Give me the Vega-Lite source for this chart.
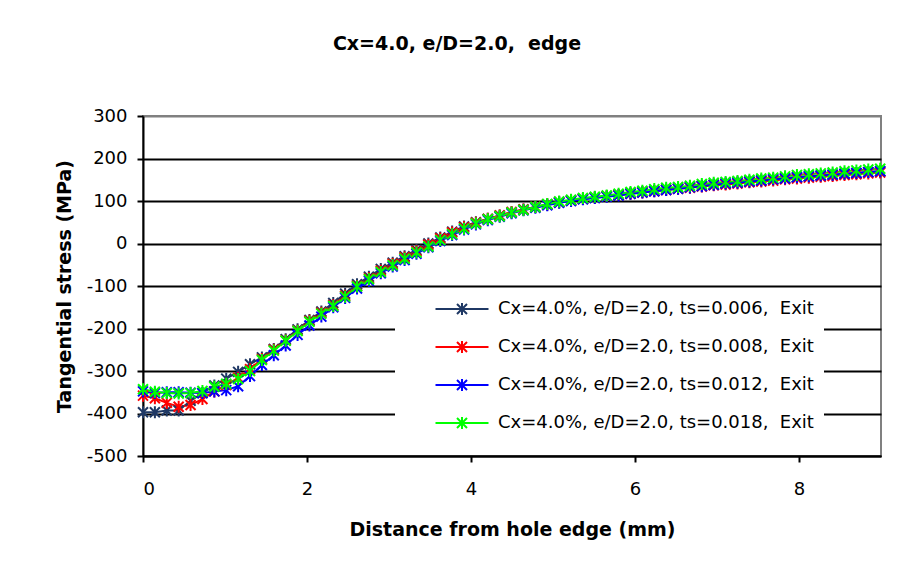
{
  "$schema": "https://vega.github.io/schema/vega-lite/v6.json",
  "width": 738,
  "height": 340,
  "autosize": {"type": "none"},
  "padding": {"left": 143, "top": 116, "right": 17, "bottom": 114},
  "background": "white",
  "title": {"text": "Cx=4.0, e/D=2.0,\u00a0 edge", "font": "DejaVu Sans", "fontSize": 19, "fontWeight": "bold", "color": "black", "anchor": "middle", "dx": -55, "offset": 53},
  "config": {"view": {"stroke": "#808080", "strokeWidth": 2}, "font": "DejaVu Sans"},
  "data": {"values": [
    {"x":0,"y":-397,"ts":"0.006"},{"x":0.145,"y":-397,"ts":"0.006"},{"x":0.29,"y":-393,"ts":"0.006"},{"x":0.435,"y":-393,"ts":"0.006"},{"x":0.58,"y":-370,"ts":"0.006"},{"x":0.725,"y":-352,"ts":"0.006"},{"x":0.87,"y":-334,"ts":"0.006"},{"x":1.015,"y":-318,"ts":"0.006"},{"x":1.16,"y":-302,"ts":"0.006"},{"x":1.305,"y":-284,"ts":"0.006"},{"x":1.45,"y":-268,"ts":"0.006"},{"x":1.595,"y":-248,"ts":"0.006"},{"x":1.74,"y":-225,"ts":"0.006"},{"x":1.885,"y":-202,"ts":"0.006"},{"x":2.03,"y":-180,"ts":"0.006"},{"x":2.175,"y":-160,"ts":"0.006"},{"x":2.32,"y":-140,"ts":"0.006"},{"x":2.465,"y":-118,"ts":"0.006"},{"x":2.61,"y":-96,"ts":"0.006"},{"x":2.755,"y":-78,"ts":"0.006"},{"x":2.9,"y":-60,"ts":"0.006"},{"x":3.045,"y":-45,"ts":"0.006"},{"x":3.19,"y":-30,"ts":"0.006"},{"x":3.335,"y":-15,"ts":"0.006"},{"x":3.48,"y":0,"ts":"0.006"},{"x":3.625,"y":14,"ts":"0.006"},{"x":3.77,"y":28,"ts":"0.006"},{"x":3.915,"y":40,"ts":"0.006"},{"x":4.06,"y":50,"ts":"0.006"},{"x":4.205,"y":58,"ts":"0.006"},{"x":4.35,"y":66,"ts":"0.006"},{"x":4.495,"y":73,"ts":"0.006"},{"x":4.64,"y":80,"ts":"0.006"},{"x":4.785,"y":86,"ts":"0.006"},{"x":4.93,"y":92,"ts":"0.006"},{"x":5.075,"y":97,"ts":"0.006"},{"x":5.22,"y":101,"ts":"0.006"},{"x":5.365,"y":105,"ts":"0.006"},{"x":5.51,"y":108,"ts":"0.006"},{"x":5.655,"y":111,"ts":"0.006"},{"x":5.8,"y":114,"ts":"0.006"},{"x":5.945,"y":118,"ts":"0.006"},{"x":6.09,"y":121,"ts":"0.006"},{"x":6.235,"y":124,"ts":"0.006"},{"x":6.38,"y":127,"ts":"0.006"},{"x":6.525,"y":130,"ts":"0.006"},{"x":6.67,"y":133,"ts":"0.006"},{"x":6.815,"y":136,"ts":"0.006"},{"x":6.96,"y":139,"ts":"0.006"},{"x":7.105,"y":141,"ts":"0.006"},{"x":7.25,"y":144,"ts":"0.006"},{"x":7.395,"y":146,"ts":"0.006"},{"x":7.54,"y":149,"ts":"0.006"},{"x":7.685,"y":151,"ts":"0.006"},{"x":7.83,"y":154,"ts":"0.006"},{"x":7.975,"y":156,"ts":"0.006"},{"x":8.12,"y":158,"ts":"0.006"},{"x":8.265,"y":160,"ts":"0.006"},{"x":8.41,"y":162,"ts":"0.006"},{"x":8.555,"y":164,"ts":"0.006"},{"x":8.7,"y":166,"ts":"0.006"},{"x":8.845,"y":168,"ts":"0.006"},{"x":8.99,"y":170,"ts":"0.006"},
    {"x":0,"y":-358,"ts":"0.008"},{"x":0.145,"y":-364,"ts":"0.008"},{"x":0.29,"y":-375,"ts":"0.008"},{"x":0.435,"y":-384,"ts":"0.008"},{"x":0.58,"y":-380,"ts":"0.008"},{"x":0.725,"y":-366,"ts":"0.008"},{"x":0.87,"y":-348,"ts":"0.008"},{"x":1.015,"y":-333,"ts":"0.008"},{"x":1.16,"y":-316,"ts":"0.008"},{"x":1.305,"y":-296,"ts":"0.008"},{"x":1.45,"y":-272,"ts":"0.008"},{"x":1.595,"y":-250,"ts":"0.008"},{"x":1.74,"y":-228,"ts":"0.008"},{"x":1.885,"y":-205,"ts":"0.008"},{"x":2.03,"y":-182,"ts":"0.008"},{"x":2.175,"y":-163,"ts":"0.008"},{"x":2.32,"y":-145,"ts":"0.008"},{"x":2.465,"y":-123,"ts":"0.008"},{"x":2.61,"y":-100,"ts":"0.008"},{"x":2.755,"y":-82,"ts":"0.008"},{"x":2.9,"y":-64,"ts":"0.008"},{"x":3.045,"y":-48,"ts":"0.008"},{"x":3.19,"y":-33,"ts":"0.008"},{"x":3.335,"y":-18,"ts":"0.008"},{"x":3.48,"y":-3,"ts":"0.008"},{"x":3.625,"y":12,"ts":"0.008"},{"x":3.77,"y":26,"ts":"0.008"},{"x":3.915,"y":38,"ts":"0.008"},{"x":4.06,"y":49,"ts":"0.008"},{"x":4.205,"y":58,"ts":"0.008"},{"x":4.35,"y":66,"ts":"0.008"},{"x":4.495,"y":74,"ts":"0.008"},{"x":4.64,"y":80,"ts":"0.008"},{"x":4.785,"y":86,"ts":"0.008"},{"x":4.93,"y":92,"ts":"0.008"},{"x":5.075,"y":97,"ts":"0.008"},{"x":5.22,"y":101,"ts":"0.008"},{"x":5.365,"y":105,"ts":"0.008"},{"x":5.51,"y":108,"ts":"0.008"},{"x":5.655,"y":111,"ts":"0.008"},{"x":5.8,"y":114,"ts":"0.008"},{"x":5.945,"y":117,"ts":"0.008"},{"x":6.09,"y":120,"ts":"0.008"},{"x":6.235,"y":123,"ts":"0.008"},{"x":6.38,"y":126,"ts":"0.008"},{"x":6.525,"y":129,"ts":"0.008"},{"x":6.67,"y":131,"ts":"0.008"},{"x":6.815,"y":134,"ts":"0.008"},{"x":6.96,"y":137,"ts":"0.008"},{"x":7.105,"y":139,"ts":"0.008"},{"x":7.25,"y":141,"ts":"0.008"},{"x":7.395,"y":144,"ts":"0.008"},{"x":7.54,"y":146,"ts":"0.008"},{"x":7.685,"y":148,"ts":"0.008"},{"x":7.83,"y":151,"ts":"0.008"},{"x":7.975,"y":153,"ts":"0.008"},{"x":8.12,"y":155,"ts":"0.008"},{"x":8.265,"y":157,"ts":"0.008"},{"x":8.41,"y":159,"ts":"0.008"},{"x":8.555,"y":161,"ts":"0.008"},{"x":8.7,"y":163,"ts":"0.008"},{"x":8.845,"y":165,"ts":"0.008"},{"x":8.99,"y":167,"ts":"0.008"},
    {"x":0,"y":-348,"ts":"0.012"},{"x":0.145,"y":-352,"ts":"0.012"},{"x":0.29,"y":-350,"ts":"0.012"},{"x":0.435,"y":-350,"ts":"0.012"},{"x":0.58,"y":-351,"ts":"0.012"},{"x":0.725,"y":-352,"ts":"0.012"},{"x":0.87,"y":-348,"ts":"0.012"},{"x":1.015,"y":-345,"ts":"0.012"},{"x":1.16,"y":-336,"ts":"0.012"},{"x":1.305,"y":-312,"ts":"0.012"},{"x":1.45,"y":-286,"ts":"0.012"},{"x":1.595,"y":-263,"ts":"0.012"},{"x":1.74,"y":-240,"ts":"0.012"},{"x":1.885,"y":-215,"ts":"0.012"},{"x":2.03,"y":-193,"ts":"0.012"},{"x":2.175,"y":-172,"ts":"0.012"},{"x":2.32,"y":-150,"ts":"0.012"},{"x":2.465,"y":-128,"ts":"0.012"},{"x":2.61,"y":-106,"ts":"0.012"},{"x":2.755,"y":-88,"ts":"0.012"},{"x":2.9,"y":-70,"ts":"0.012"},{"x":3.045,"y":-54,"ts":"0.012"},{"x":3.19,"y":-39,"ts":"0.012"},{"x":3.335,"y":-24,"ts":"0.012"},{"x":3.48,"y":-9,"ts":"0.012"},{"x":3.625,"y":6,"ts":"0.012"},{"x":3.77,"y":20,"ts":"0.012"},{"x":3.915,"y":33,"ts":"0.012"},{"x":4.06,"y":45,"ts":"0.012"},{"x":4.205,"y":55,"ts":"0.012"},{"x":4.35,"y":63,"ts":"0.012"},{"x":4.495,"y":71,"ts":"0.012"},{"x":4.64,"y":78,"ts":"0.012"},{"x":4.785,"y":84,"ts":"0.012"},{"x":4.93,"y":90,"ts":"0.012"},{"x":5.075,"y":96,"ts":"0.012"},{"x":5.22,"y":100,"ts":"0.012"},{"x":5.365,"y":104,"ts":"0.012"},{"x":5.51,"y":107,"ts":"0.012"},{"x":5.655,"y":110,"ts":"0.012"},{"x":5.8,"y":113,"ts":"0.012"},{"x":5.945,"y":117,"ts":"0.012"},{"x":6.09,"y":120,"ts":"0.012"},{"x":6.235,"y":123,"ts":"0.012"},{"x":6.38,"y":126,"ts":"0.012"},{"x":6.525,"y":129,"ts":"0.012"},{"x":6.67,"y":132,"ts":"0.012"},{"x":6.815,"y":135,"ts":"0.012"},{"x":6.96,"y":138,"ts":"0.012"},{"x":7.105,"y":141,"ts":"0.012"},{"x":7.25,"y":143,"ts":"0.012"},{"x":7.395,"y":146,"ts":"0.012"},{"x":7.54,"y":148,"ts":"0.012"},{"x":7.685,"y":151,"ts":"0.012"},{"x":7.83,"y":153,"ts":"0.012"},{"x":7.975,"y":156,"ts":"0.012"},{"x":8.12,"y":158,"ts":"0.012"},{"x":8.265,"y":160,"ts":"0.012"},{"x":8.41,"y":162,"ts":"0.012"},{"x":8.555,"y":164,"ts":"0.012"},{"x":8.7,"y":166,"ts":"0.012"},{"x":8.845,"y":168,"ts":"0.012"},{"x":8.99,"y":170,"ts":"0.012"},
    {"x":0,"y":-343,"ts":"0.018"},{"x":0.145,"y":-349,"ts":"0.018"},{"x":0.29,"y":-352,"ts":"0.018"},{"x":0.435,"y":-353,"ts":"0.018"},{"x":0.58,"y":-352,"ts":"0.018"},{"x":0.725,"y":-347,"ts":"0.018"},{"x":0.87,"y":-337,"ts":"0.018"},{"x":1.015,"y":-330,"ts":"0.018"},{"x":1.16,"y":-319,"ts":"0.018"},{"x":1.305,"y":-300,"ts":"0.018"},{"x":1.45,"y":-274,"ts":"0.018"},{"x":1.595,"y":-252,"ts":"0.018"},{"x":1.74,"y":-229,"ts":"0.018"},{"x":1.885,"y":-206,"ts":"0.018"},{"x":2.03,"y":-184,"ts":"0.018"},{"x":2.175,"y":-165,"ts":"0.018"},{"x":2.32,"y":-147,"ts":"0.018"},{"x":2.465,"y":-125,"ts":"0.018"},{"x":2.61,"y":-101,"ts":"0.018"},{"x":2.755,"y":-84,"ts":"0.018"},{"x":2.9,"y":-67,"ts":"0.018"},{"x":3.045,"y":-51,"ts":"0.018"},{"x":3.19,"y":-36,"ts":"0.018"},{"x":3.335,"y":-21,"ts":"0.018"},{"x":3.48,"y":-7,"ts":"0.018"},{"x":3.625,"y":8,"ts":"0.018"},{"x":3.77,"y":22,"ts":"0.018"},{"x":3.915,"y":35,"ts":"0.018"},{"x":4.06,"y":47,"ts":"0.018"},{"x":4.205,"y":57,"ts":"0.018"},{"x":4.35,"y":64,"ts":"0.018"},{"x":4.495,"y":73,"ts":"0.018"},{"x":4.64,"y":79,"ts":"0.018"},{"x":4.785,"y":86,"ts":"0.018"},{"x":4.93,"y":93,"ts":"0.018"},{"x":5.075,"y":99,"ts":"0.018"},{"x":5.22,"y":103,"ts":"0.018"},{"x":5.365,"y":107,"ts":"0.018"},{"x":5.51,"y":110,"ts":"0.018"},{"x":5.655,"y":113,"ts":"0.018"},{"x":5.8,"y":117,"ts":"0.018"},{"x":5.945,"y":121,"ts":"0.018"},{"x":6.09,"y":124,"ts":"0.018"},{"x":6.235,"y":128,"ts":"0.018"},{"x":6.38,"y":131,"ts":"0.018"},{"x":6.525,"y":133,"ts":"0.018"},{"x":6.67,"y":136,"ts":"0.018"},{"x":6.815,"y":140,"ts":"0.018"},{"x":6.96,"y":143,"ts":"0.018"},{"x":7.105,"y":145,"ts":"0.018"},{"x":7.25,"y":147,"ts":"0.018"},{"x":7.395,"y":150,"ts":"0.018"},{"x":7.54,"y":153,"ts":"0.018"},{"x":7.685,"y":155,"ts":"0.018"},{"x":7.83,"y":158,"ts":"0.018"},{"x":7.975,"y":161,"ts":"0.018"},{"x":8.12,"y":163,"ts":"0.018"},{"x":8.265,"y":165,"ts":"0.018"},{"x":8.41,"y":167,"ts":"0.018"},{"x":8.555,"y":170,"ts":"0.018"},{"x":8.7,"y":172,"ts":"0.018"},{"x":8.845,"y":174,"ts":"0.018"},{"x":8.99,"y":176,"ts":"0.018"}
  ]},
  "encoding": {
    "x": {"field": "x", "type": "quantitative", "scale": {"domain": [0, 9], "nice": false, "zero": false},
      "axis": {"values": [0, 2, 4, 6, 8], "grid": false, "domainColor": "black", "domainWidth": 2, "tickColor": "black", "tickWidth": 2, "tickSize": 6, "labelFont": "DejaVu Sans", "labelFontSize": 18, "labelColor": "black", "labelPadding": 18, "title": "Distance from hole edge (mm)", "titleFont": "DejaVu Sans", "titleFontSize": 19, "titleFontWeight": "bold", "titleColor": "black", "titlePadding": 22}},
    "y": {"field": "y", "type": "quantitative", "scale": {"domain": [-500, 300], "nice": false, "zero": false},
      "axis": {"values": [-500, -400, -300, -200, -100, 0, 100, 200, 300], "labelExpr": "datum.value < 0 ? '-' + abs(datum.value) : '' + datum.value", "grid": true, "gridColor": {"condition": {"test": "datum.value === 300", "value": "#808080"}, "value": "black"}, "gridWidth": 2, "domainColor": "black", "domainWidth": 2, "tickColor": "black", "tickWidth": 2, "tickSize": 6, "labelFont": "DejaVu Sans", "labelFontSize": 18, "labelColor": "black", "labelPadding": 10, "title": "Tangential stress (MPa)", "titleFont": "DejaVu Sans", "titleFontSize": 19, "titleFontWeight": "bold", "titleColor": "black", "titlePadding": 12}},
    "color": {"field": "ts", "type": "nominal", "scale": {"domain": ["0.006", "0.008", "0.012", "0.018"], "range": ["#1F3864", "#FF0000", "#0000FF", "#00FF00"]},
      "legend": {"orient": "none", "legendX": 252, "legendY": 172, "fillColor": "white", "padding": 10, "title": null, "symbolType": "M-2.65,0H2.65M-0.5,-0.5L0.5,0.5M-0.5,0.5L0.5,-0.5M0,-0.6V0.6", "symbolSize": 400, "symbolStrokeWidth": 2, "symbolOpacity": 1, "symbolFillColor": "transparent", "symbolOffset": 46, "labelOffset": 25, "labelAlign": "left", "labelFont": "DejaVu Sans", "labelFontSize": 18, "labelColor": "black", "rowPadding": 17, "labelExpr": "'Cx=4.0%, e/D=2.0, ts=' + datum.label + ',\u00a0 Exit\u00a0\u00a0\u00a0\u00a0\u00a0\u00a0'", "labelLimit": 600}}
  },
  "layer": [
    {"mark": {"type": "line", "strokeWidth": 2}},
    {"mark": {"type": "point", "shape": "M-1,-1L1,1M-1,1L1,-1M0,-1.2V1.2", "filled": false, "size": 100, "strokeWidth": 2, "opacity": 1}}
  ]
}
